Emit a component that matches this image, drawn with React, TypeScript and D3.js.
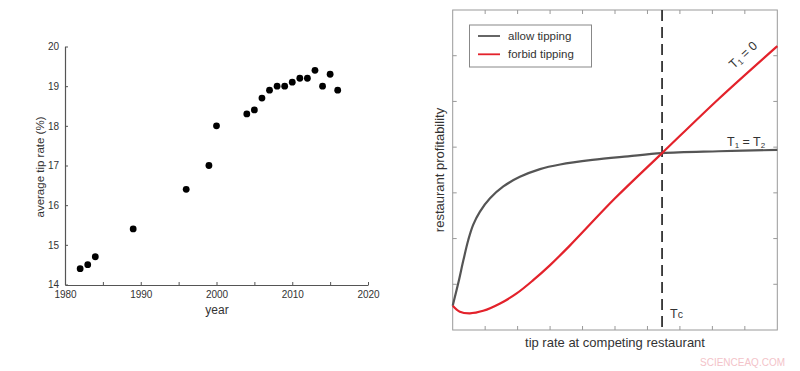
import React, { useEffect, useRef } from 'react';
import * as d3 from 'd3';

// left panel: average tip rate by year
const years = [1982, 1983, 1984, 1989, 1996, 1999, 2000, 2004, 2005, 2006, 2007, 2008, 2009, 2010, 2011, 2012, 2013, 2014, 2015, 2016];
const tipRates = [14.4, 14.5, 14.7, 15.4, 16.4, 17.0, 18.0, 18.3, 18.4, 18.7, 18.9, 19.0, 19.0, 19.1, 19.2, 19.2, 19.4, 19.0, 19.3, 18.9];
const yearTicks = [1980, 1985, 1990, 1995, 2000, 2005, 2010, 2015, 2020];
const rateTicks = [14, 15, 16, 17, 18, 19, 20];

// right panel: model curves (arbitrary units)
const allowX = [0, 0.17, 0.33, 0.48, 0.63, 0.84, 1.15, 1.56, 2.07, 2.69, 3.31, 4.3, 5.4, 6.45, 8.2, 10];
const allowY = [0.53, 1.02, 1.53, 1.97, 2.3, 2.59, 2.88, 3.14, 3.35, 3.52, 3.62, 3.72, 3.8, 3.87, 3.91, 3.94];
const forbidX = [0, 0.22, 0.53, 0.94, 1.46, 1.97, 2.48, 3.0, 3.6, 5.0, 6.45, 8.2, 10];
const forbidY = [0.53, 0.4, 0.365, 0.42, 0.58, 0.8, 1.09, 1.42, 1.84, 2.88, 3.87, 5.06, 6.21];
const tcValue = 6.45;
const legendItems = [
    { label: 'allow tipping', color: '#555555' },
    { label: 'forbid tipping', color: '#e3222b' },
];

const FONT = '"Liberation Sans", Arial, Helvetica, sans-serif';

function App() {
    const ref = useRef<SVGSVGElement>(null);

    useEffect(() => {
        const svg = d3.select(ref.current);
        svg.selectAll('*').remove();
        svg.attr('font-family', FONT);

        // ---------- left scatter ----------
        const x1 = d3.scaleLinear().domain([1980, 2020]).range([65, 368]);
        const y1 = d3.scaleLinear().domain([14, 20]).range([284.5, 46.5]);
        const left = svg.append('g');

        const xAx = left.append('g')
            .attr('transform', `translate(0,${y1(14) + 0.5})`)
            .call(d3.axisBottom(x1).tickValues(yearTicks).tickSizeInner(-3).tickSizeOuter(0).tickPadding(6)
                .tickFormat((d: any) => (d % 10 === 0 ? String(d) : '')));
        const yAx = left.append('g')
            .attr('transform', `translate(${x1(1980)},0)`)
            .call(d3.axisLeft(y1).tickValues(rateTicks).tickSizeInner(-3).tickSizeOuter(0).tickPadding(6)
                .tickFormat(d3.format('d')));
        [xAx, yAx].forEach(ax => {
            ax.select('.domain').attr('stroke', '#555').attr('stroke-width', 1.2);
            ax.selectAll('.tick line').attr('stroke', '#555');
            ax.selectAll('.tick text').attr('fill', '#333').attr('font-size', 10).attr('font-family', FONT);
        });

        left.selectAll('circle.pt')
            .data(years.map((y, i) => ({ y, v: tipRates[i] })))
            .enter()
            .append('circle')
            .attr('class', 'pt')
            .attr('cx', d => x1(d.y))
            .attr('cy', d => y1(d.v))
            .attr('r', 3.4)
            .attr('fill', '#000');

        left.append('text')
            .attr('x', 217).attr('y', 314)
            .attr('text-anchor', 'middle')
            .attr('font-size', 12).attr('fill', '#333')
            .text('year');
        left.append('text')
            .attr('transform', 'translate(44,167) rotate(-90)')
            .attr('text-anchor', 'middle')
            .attr('font-size', 11.5).attr('fill', '#333')
            .text('average tip rate (%)');

        // ---------- right model plot ----------
        const x2 = d3.scaleLinear().domain([0, 10]).range([452.7, 777.3]);
        const y2 = d3.scaleLinear().domain([0, 7]).range([330, 10]);
        const right = svg.append('g');

        right.append('rect')
            .attr('x', x2(0)).attr('y', y2(7))
            .attr('width', x2(10) - x2(0)).attr('height', y2(0) - y2(7))
            .attr('fill', 'none').attr('stroke', '#999').attr('stroke-width', 1);

        const ticksX = d3.range(1, 10);
        const ticksY = d3.range(1, 7);
        right.selectAll('line.tb')
            .data(ticksX)
            .enter()
            .append('line')
            .attr('x1', d => x2(d)).attr('x2', d => x2(d))
            .attr('y1', y2(0)).attr('y2', y2(0) - 4)
            .attr('stroke', '#999');
        right.selectAll('line.tt')
            .data(ticksX)
            .enter()
            .append('line')
            .attr('x1', d => x2(d)).attr('x2', d => x2(d))
            .attr('y1', y2(7)).attr('y2', y2(7) + 4)
            .attr('stroke', '#999');
        right.selectAll('line.tl')
            .data(ticksY)
            .enter()
            .append('line')
            .attr('x1', x2(0)).attr('x2', x2(0) + 4)
            .attr('y1', d => y2(d)).attr('y2', d => y2(d))
            .attr('stroke', '#999');
        right.selectAll('line.tr')
            .data(ticksY)
            .enter()
            .append('line')
            .attr('x1', x2(10)).attr('x2', x2(10) - 4)
            .attr('y1', d => y2(d)).attr('y2', d => y2(d))
            .attr('stroke', '#999');

        // Tc dashed line
        right.append('line')
            .attr('x1', x2(tcValue)).attr('x2', x2(tcValue))
            .attr('y1', y2(7)).attr('y2', y2(0))
            .attr('stroke', '#333').attr('stroke-width', 1.8)
            .attr('stroke-dasharray', '11,6');

        const line = d3.line<[number, number]>()
            .x(d => x2(d[0]))
            .y(d => y2(d[1]))
            .curve(d3.curveCatmullRom.alpha(0.5));

        right.append('path')
            .attr('d', line(allowX.map((x, i) => [x, allowY[i]]) as [number, number][]))
            .attr('fill', 'none').attr('stroke', legendItems[0].color).attr('stroke-width', 2.2);
        right.append('path')
            .attr('d', line(forbidX.map((x, i) => [x, forbidY[i]]) as [number, number][]))
            .attr('fill', 'none').attr('stroke', legendItems[1].color).attr('stroke-width', 2.2);

        // legend
        const lg = right.append('g');
        lg.append('rect')
            .attr('x', 469.5).attr('y', 25).attr('width', 122).attr('height', 42)
            .attr('fill', '#fff').attr('stroke', '#888').attr('stroke-width', 1);
        legendItems.forEach((it, i) => {
            const yy = 36 + i * 18.3;
            lg.append('line')
                .attr('x1', 478).attr('x2', 500).attr('y1', yy).attr('y2', yy)
                .attr('stroke', it.color).attr('stroke-width', 1.8);
            lg.append('text')
                .attr('x', 508).attr('y', yy + 4)
                .attr('font-size', 11.5).attr('fill', '#333')
                .text(it.label);
        });

        // annotations
        const t1 = right.append('text')
            .attr('transform', 'translate(746,58) rotate(-43)')
            .attr('text-anchor', 'middle')
            .attr('font-size', 12.5).attr('fill', '#333');
        t1.append('tspan').text('T');
        t1.append('tspan').attr('font-size', 8).attr('dy', 2).text('1');
        t1.append('tspan').attr('dy', -2).text(' = 0');

        const t2 = right.append('text')
            .attr('x', 727).attr('y', 146)
            .attr('font-size', 12.5).attr('fill', '#333');
        t2.append('tspan').text('T');
        t2.append('tspan').attr('font-size', 8).attr('dy', 2).text('1');
        t2.append('tspan').attr('dy', -2).text(' = T');
        t2.append('tspan').attr('font-size', 8).attr('dy', 2).text('2');

        const tc = right.append('text')
            .attr('x', 670).attr('y', 318)
            .attr('font-size', 12.5).attr('fill', '#333');
        tc.append('tspan').text('T');
        tc.append('tspan').attr('font-size', 10.5).text('c');

        right.append('text')
            .attr('x', 615).attr('y', 347)
            .attr('text-anchor', 'middle')
            .attr('font-size', 13).attr('fill', '#333')
            .text('tip rate at competing restaurant');
        right.append('text')
            .attr('transform', 'translate(444,170) rotate(-90)')
            .attr('text-anchor', 'middle')
            .attr('font-size', 13).attr('fill', '#333')
            .text('restaurant profitability');

        svg.append('text')
            .attr('x', 785).attr('y', 366)
            .attr('text-anchor', 'end')
            .attr('font-size', 10).attr('fill', '#f3c3c9')
            .text('SCIENCEAQ.COM');
    }, []);

    return (
        <svg ref={ref} width={800} height={371}
            style={{ position: 'absolute', left: 0, top: 0, background: '#fff' }} />
    );
}

export default App;
